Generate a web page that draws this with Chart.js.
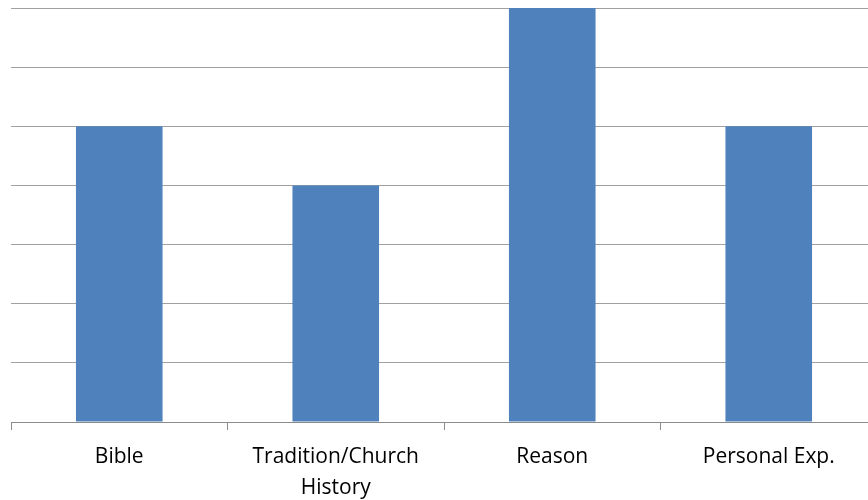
<!DOCTYPE html>
<html>
<head>
<meta charset="utf-8">
<script src="https://cdn.jsdelivr.net/npm/chart.js@4"></script>
<style>
  html, body { margin: 0; padding: 0; background: #fff; overflow: hidden; }
  #wrap { position: relative; width: 877px; height: 500px; }
</style>
</head>
<body>
<div id="wrap"><canvas id="myChart"></canvas></div>
<script>
// sources and their scores
const categories = ['Bible', ['Tradition/Church', 'History'], 'Reason', 'Personal Exp.'];
const scores = [5, 4, 7, 5];

const data = {
    labels: categories,
    datasets: [{
        data: scores,
        backgroundColor: '#4f81bd',
        borderWidth: 0,
        categoryPercentage: 1,
        barPercentage: 0.4
    }]
};

const config = {
    type: 'bar',
    data: data,
    options: {
        responsive: true,
        maintainAspectRatio: false,
        animation: false,
        layout: { padding: { left: 11, top: 8, right: 0, bottom: 0 } },
        plugins: { legend: { display: false }, tooltip: { enabled: false } },
        scales: {
            x: {
                offset: true,
                grid: {
                    offset: true,
                    drawOnChartArea: false,
                    drawTicks: true,
                    tickLength: 8,
                    color: '#8c8c8c'
                },
                border: { color: '#8c8c8c', width: 1 },
                ticks: {
                    color: '#000',
                    padding: 11,
                    maxRotation: 0,
                    autoSkip: false,
                    font: { family: 'Open Sans', size: 21, lineHeight: 1.48 }
                },
                afterFit: scale => { scale.height = 78; }
            },
            y: {
                min: 0,
                max: 7,
                ticks: { display: false, stepSize: 1 },
                grid: { color: '#a0a0a0', drawTicks: false },
                border: { display: false },
                afterFit: scale => { scale.width = 0; }
            }
        }
    }
};

const myChart = new Chart(document.getElementById('myChart'), config);
</script>
</body>
</html>
